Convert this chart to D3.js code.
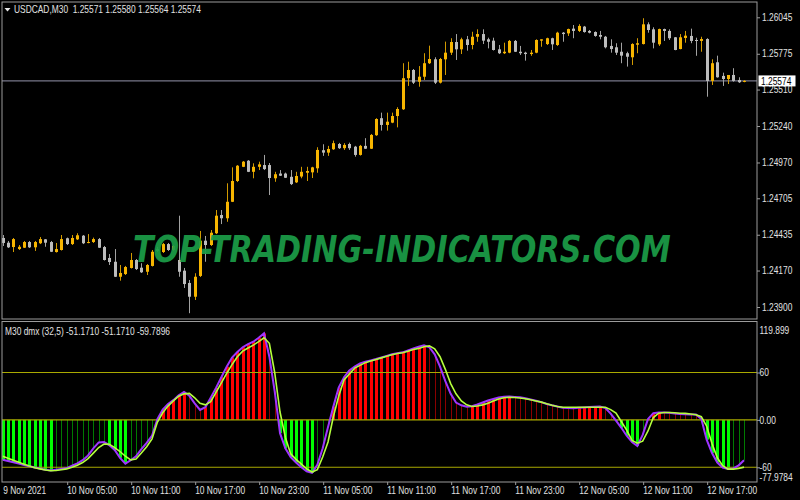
<!DOCTYPE html>
<html><head><meta charset="utf-8">
<script src="https://cdn.jsdelivr.net/npm/d3@7"></script>
<style>
html,body{margin:0;padding:0;background:#000;}
svg{display:block;}
</style></head><body>
<svg id="c" width="800" height="500"></svg>
<script>
// ---------------- DATA ----------------
const chartTitle = "USDCAD,M30";
const lastOHLC = ["1.25571","1.25580","1.25564","1.25574"];
const currentPrice = 1.25574;
const currentPriceLabel = "1.25574";

const open = [
1.24411,1.24376,1.24344,1.24329,1.24339,1.24381,1.24342,1.24372,1.24401,1.24381,
1.24307,1.24322,1.24409,1.24366,1.24401,1.24428,1.24377,1.24381,1.24403,1.24344,
1.24263,1.24235,1.24124,1.24144,1.24189,1.24248,1.24191,1.24161,1.24204,1.24329,
1.24307,1.24366,1.24322,1.24248,1.24169,1.24078,1.23976,1.24130,1.24391,1.24359,
1.24446,1.24581,1.24557,1.24679,1.24833,1.24938,1.24983,1.24901,1.24938,1.24951,
1.24951,1.24853,1.24888,1.24888,1.24864,1.24823,1.24866,1.24894,1.24897,1.24927,
1.25061,1.25043,1.25068,1.25107,1.25076,1.25107,1.25087,1.25026,1.25093,1.25072,
1.25172,1.25298,1.25248,1.25265,1.25314,1.25364,1.25594,1.25655,1.25568,1.25605,
1.25705,1.25734,1.25561,1.25734,1.25783,1.25862,1.25808,1.25882,1.25840,1.25901,
1.25921,1.25882,1.25872,1.25808,1.25779,1.25783,1.25870,1.25790,1.25783,1.25773,
1.25783,1.25872,1.25847,1.25890,1.25840,1.25931,1.25926,1.25961,1.25944,1.25976,
1.25944,1.25936,1.25914,1.25901,1.25833,1.25823,1.25790,1.25779,1.25749,1.25842,
1.25847,1.25993,1.25956,1.25845,1.25958,1.25944,1.25897,1.25810,1.25892,1.25907,
1.25877,1.25870,1.25884,1.25574,1.25712,1.25611,1.25588,1.25618,1.25581,1.25571];

const high = [
1.24433,1.24389,1.24411,1.24359,1.24389,1.24389,1.24389,1.24418,1.24403,1.24389,
1.24374,1.24433,1.24414,1.24433,1.24446,1.24433,1.24440,1.24414,1.24411,1.24352,
1.24292,1.24329,1.24211,1.24204,1.24300,1.24255,1.24224,1.24218,1.24322,1.24344,
1.24374,1.24374,1.24359,1.24576,1.24189,1.24100,1.24150,1.24463,1.24426,1.24470,
1.24618,1.24618,1.24816,1.24934,1.24951,1.24981,1.24988,1.24964,1.24976,1.25026,
1.24966,1.24901,1.24914,1.24895,1.24914,1.24901,1.24938,1.24938,1.24938,1.25083,
1.25105,1.25093,1.25132,1.25115,1.25113,1.25117,1.25093,1.25100,1.25150,1.25181,
1.25298,1.25339,1.25339,1.25339,1.25379,1.25705,1.25716,1.25662,1.25684,1.25779,
1.25835,1.25749,1.25744,1.25865,1.25890,1.25921,1.25894,1.25907,1.25938,1.25956,
1.25956,1.25894,1.25894,1.25840,1.25857,1.25877,1.25877,1.25833,1.25790,1.25803,
1.25882,1.25882,1.25894,1.25894,1.25938,1.25936,1.25961,1.25988,1.25994,1.25981,
1.25951,1.25941,1.25944,1.25907,1.25882,1.25853,1.25857,1.25790,1.25853,1.25890,
1.26038,1.26008,1.25971,1.25961,1.25961,1.25956,1.25899,1.25921,1.25944,1.25961,
1.25894,1.25901,1.25890,1.25734,1.25761,1.25635,1.25611,1.25668,1.25601,1.25580];

const low = [
1.24352,1.24337,1.24307,1.24322,1.24337,1.24337,1.24315,1.24366,1.24346,1.24307,
1.24303,1.24318,1.24359,1.24359,1.24396,1.24366,1.24372,1.24374,1.24337,1.24244,
1.24211,1.24122,1.24095,1.24137,1.24185,1.24174,1.24152,1.24137,1.24200,1.24307,
1.24300,1.24315,1.24315,1.24124,1.24041,1.23854,1.23952,1.24122,1.24235,1.24352,
1.24440,1.24514,1.24531,1.24677,1.24825,1.24936,1.24899,1.24853,1.24914,1.24914,
1.24729,1.24827,1.24870,1.24855,1.24803,1.24818,1.24853,1.24833,1.24855,1.24894,
1.25019,1.25019,1.25063,1.25070,1.25063,1.25063,1.25013,1.25021,1.25070,1.25070,
1.25167,1.25206,1.25206,1.25261,1.25230,1.25359,1.25537,1.25551,1.25531,1.25581,
1.25699,1.25551,1.25555,1.25618,1.25766,1.25729,1.25773,1.25798,1.25808,1.25864,
1.25847,1.25815,1.25799,1.25773,1.25773,1.25779,1.25788,1.25766,1.25724,1.25760,
1.25779,1.25827,1.25840,1.25803,1.25833,1.25864,1.25907,1.25890,1.25936,1.25931,
1.25926,1.25901,1.25882,1.25815,1.25783,1.25766,1.25705,1.25680,1.25692,1.25779,
1.25844,1.25931,1.25815,1.25833,1.25870,1.25877,1.25801,1.25808,1.25857,1.25853,
1.25760,1.25790,1.25457,1.25544,1.25598,1.25537,1.25551,1.25568,1.25559,1.25564];

const close = [
1.24374,1.24342,1.24403,1.24346,1.24381,1.24342,1.24381,1.24403,1.24376,1.24309,
1.24329,1.24403,1.24366,1.24411,1.24431,1.24372,1.24381,1.24403,1.24339,1.24248,
1.24233,1.24124,1.24152,1.24196,1.24248,1.24181,1.24157,1.24211,1.24309,1.24315,
1.24366,1.24322,1.24352,1.24161,1.24070,1.23976,1.24124,1.24391,1.24359,1.24450,
1.24576,1.24557,1.24679,1.24833,1.24946,1.24976,1.24901,1.24938,1.24956,1.24921,
1.24855,1.24883,1.24872,1.24857,1.24810,1.24870,1.24901,1.24907,1.24934,1.25063,
1.25043,1.25070,1.25113,1.25076,1.25100,1.25076,1.25026,1.25093,1.25072,1.25174,
1.25292,1.25248,1.25272,1.25314,1.25366,1.25594,1.25655,1.25561,1.25605,1.25705,
1.25736,1.25561,1.25736,1.25783,1.25862,1.25808,1.25882,1.25840,1.25901,1.25921,
1.25872,1.25864,1.25803,1.25779,1.25790,1.25870,1.25790,1.25779,1.25773,1.25783,
1.25877,1.25882,1.25890,1.25845,1.25931,1.25921,1.25958,1.25944,1.25981,1.25936,
1.25931,1.25907,1.25901,1.25823,1.25810,1.25783,1.25761,1.25753,1.25847,1.25853,
1.25993,1.25951,1.25857,1.25958,1.25944,1.25890,1.25803,1.25897,1.25909,1.25870,
1.25872,1.25884,1.25574,1.25705,1.25601,1.25588,1.25618,1.25574,1.25564,1.25574];

const dmxMain = [
-50.5,-52,-53.7,-55.3,-57,-58.7,-60.3,-61.5,-63,-64,
-63,-62,-61,-58,-55,-51,-45,-36,-28.5,-28,
-32,-38,-48,-55.5,-51,-46,-37,-29,-20,1,
13,20,25,31,35.5,30.5,21,12.6,16,28,
40.5,54,67.4,79,86,92,96,99,104,109.5,
80,36,-16.8,-36,-47,-54,-60,-65,-67,-57,
-36,-9,16.8,41,54,62.5,67.5,71.6,73.5,75.3,
77,79,81,83,84.5,85.5,88,90.5,92.5,94.5,
92,83,67.4,49,33,22,18.5,16.8,17.3,19.5,
22,24.5,26.5,28.3,29.2,29.5,29,28.6,27.3,25.8,
24.3,22.5,20.2,18.5,17,15.5,15,14.7,15.3,15.8,
16.2,16.5,16.8,15,8,-1,-10,-20,-28,-33,
-19,1,8.5,9.5,9.3,9,8,7.5,7,6.8,
6.7,1,-25,-42,-54,-60.5,-62,-61.5,-57.5,-51.171];

const dmxSignal = [
-46,-48.5,-51,-53.5,-56,-58.5,-60.5,-62,-63.5,-64.3,
-64,-63,-62,-60,-57.5,-54,-49,-42,-35,-30.5,
-31,-35,-40,-46,-50.5,-49.5,-42,-34,-24,-3,
9,17.5,24,30,33,33.5,28,21,19,23,
35,47,59,70,80,87,91,94.7,99,104,
97,60,10,-22,-43,-50,-56,-62,-66,-63,
-47,-28,4,30,50.5,58,65.5,69,72.5,74.5,
76.5,78.5,80.5,82.5,84,85,87,89,90.5,92.5,
93.7,90,80,64,46,33,24,19,17,17.5,
19,21,24,26.5,28,28.6,28.4,27.8,26.8,25.5,
24,22.5,20.5,18.5,17,16,16,16,16,16,
16,16,16,16,13,8.5,-2,-13,-26,-29.5,
-27,-14,3,8.5,9.3,9.3,9,8.5,8.2,7.5,
6.5,4,-8,-30,-48,-58,-62.3,-62.3,-61.5,-59.7896];

const priceTicks = [1.26045,1.25775,1.25510,1.25240,1.24970,1.24705,1.24435,1.24170,1.23900];
const dmxTickValues = [119.899,60,0,-60,-77.9784];
const dmxTickLabels = ["119.899","60","0.00","-60","-77.9784"];
const dmxLevels = [60,0,-60];
const timeTickBars = [0,12,24,36,48,60,72,84,96,108,120,132];
const timeTickLabels = ["9 Nov 2021","10 Nov 05:00","10 Nov 11:00","10 Nov 17:00","10 Nov 23:00",
  "11 Nov 05:00","11 Nov 11:00","11 Nov 17:00","11 Nov 23:00","12 Nov 05:00","12 Nov 11:00","12 Nov 17:00"];
const indicatorLabel = "M30 dmx (32,5) -51.1710 -51.1710 -59.7896";
const watermark = "TOP-TRADING-INDICATORS.COM";

// ---------------- LAYOUT / STYLE ----------------
const W = 800, H = 500;
const L = 2, R = 757, mainTop = 2, mainBot = 319, subTop = 321.5, subBot = 482;
const FONT = '"Liberation Sans","Arial",sans-serif';
const NARROW = "scale(0.84,1)";
const TXT = "#e2e2e2", FRAME = "#9c9c9c";
const BULL = "#f7b500", BEAR = "#bcbcbc", BULLW = "#d29a00", BEARW = "#a2a2a2";

const svg = d3.select("#c");
svg.append("rect").attr("width", W).attr("height", H).attr("fill", "#000");

const defs = svg.append("defs");
defs.append("clipPath").attr("id", "cm").append("rect")
  .attr("x", L).attr("y", mainTop).attr("width", R - L).attr("height", mainBot - mainTop);
defs.append("clipPath").attr("id", "cs").append("rect")
  .attr("x", L).attr("y", subTop).attr("width", R - L).attr("height", subBot - subTop);

const idx = d3.range(open.length);
const x = d3.scaleLinear().domain([0, open.length - 1]).range([2.7, 744]);
const yP = d3.scaleLinear().domain([1.23900, 1.26045]).range([307, 17.3]);
const yD = d3.scaleLinear().domain([-60, 60]).range([467.3, 372.5]);

// ---------------- MAIN PANEL ----------------
const gM = svg.append("g").attr("clip-path", "url(#cm)");
gM.append("line").attr("x1", L).attr("x2", R)
  .attr("y1", yP(currentPrice)).attr("y2", yP(currentPrice))
  .attr("stroke", "#77778a").attr("stroke-width", 1.4);

const cx = i => Math.round(x(i)) + 0.5;
gM.selectAll("line.wick").data(idx).join("line").attr("class", "wick")
  .attr("x1", cx).attr("x2", cx)
  .attr("y1", i => yP(high[i])).attr("y2", i => yP(low[i]))
  .attr("stroke", i => close[i] >= open[i] ? BULLW : BEARW).attr("stroke-width", 1);
gM.selectAll("rect.body").data(idx).join("rect").attr("class", "body")
  .attr("x", i => cx(i) - 1.5).attr("width", 3)
  .attr("y", i => yP(Math.max(open[i], close[i])))
  .attr("height", i => Math.max(1, yP(Math.min(open[i], close[i])) - yP(Math.max(open[i], close[i]))))
  .attr("fill", i => close[i] >= open[i] ? BULL : BEAR);

// watermark (horizontally scaled so its box spans the same width as the reference)
const wm = svg.append("text").text(watermark)
  .attr("font-family", '"DejaVu Sans", sans-serif').attr("font-weight", "bold").attr("font-style", "italic")
  .attr("font-size", 37).attr("fill", "#1b9c47").attr("opacity", 0.93);
const wmLen = wm.node().getComputedTextLength() || 700;
wm.attr("transform", `translate(133,262) scale(${538 / wmLen},1)`);

// frame
svg.append("rect").attr("x", L).attr("y", mainTop).attr("width", R - L).attr("height", mainBot - mainTop)
  .attr("fill", "none").attr("stroke", FRAME).attr("stroke-width", 1);

// title
svg.append("path").attr("d", "M4.5,8 L10.5,8 L7.5,11.5 Z").attr("fill", "#e8e8e8");
svg.append("text").attr("transform", "translate(14,12.8) " + NARROW)
  .attr("font-family", FONT).attr("font-size", 10)
  .attr("fill", TXT).attr("xml:space", "preserve")
  .text(chartTitle + "  " + lastOHLC.join(" "));

// price axis
const axP = d3.axisRight(yP).tickValues(priceTicks).tickFormat(d3.format(".5f")).tickSize(3).tickPadding(3);
svg.append("g").attr("transform", `translate(${R},0)`).call(axP)
  .call(g => {
    g.attr("font-family", FONT).attr("font-size", 10);
    g.select(".domain").remove();
    g.selectAll(".tick line").attr("stroke", FRAME);
    g.selectAll(".tick text").attr("fill", TXT).attr("transform", NARROW);
  });

// current price box
const cpY = yP(currentPrice);
svg.append("rect").attr("x", 758.5).attr("y", cpY - 5.5).attr("width", 37).attr("height", 11).attr("fill", "#fff");
svg.append("text").attr("transform", `translate(761,${cpY + 3.6}) ${NARROW}`)
  .attr("font-family", FONT).attr("font-size", 10)
  .attr("fill", "#000").text(currentPriceLabel);

// ---------------- INDICATOR PANEL ----------------
const gS = svg.append("g").attr("clip-path", "url(#cs)");
const isUp = i => i > 0 && dmxMain[i] > dmxMain[i - 1];
const barColor = i => dmxMain[i] >= 0 ? (isUp(i) ? "#ff0000" : "#8a0000") : (isUp(i) ? "#007a00" : "#00ff00");
const barW = i => (dmxMain[i] >= 0 ? isUp(i) : !isUp(i)) ? 3 : 1;
gS.selectAll("rect.h").data(idx).join("rect").attr("class", "h")
  .attr("x", i => cx(i) - barW(i) / 2).attr("width", barW)
  .attr("y", i => Math.min(yD(0), yD(dmxMain[i])))
  .attr("height", i => Math.abs(yD(dmxMain[i]) - yD(0)))
  .attr("fill", barColor);

gS.selectAll("line.lvl").data(dmxLevels).join("line").attr("class", "lvl")
  .attr("x1", L).attr("x2", R).attr("y1", d => yD(d)).attr("y2", d => yD(d))
  .attr("stroke", "#a9a900").attr("stroke-width", 1.1);

const lineGen = arr => d3.line().x(i => x(i)).y(i => yD(arr[i]))(idx);
gS.append("path").attr("d", lineGen(dmxMain)).attr("fill", "none")
  .attr("stroke", "#9d35ff").attr("stroke-width", 2);
gS.append("path").attr("d", lineGen(dmxSignal)).attr("fill", "none")
  .attr("stroke", "#b4ff3c").attr("stroke-width", 1.6);

svg.append("rect").attr("x", L).attr("y", subTop).attr("width", R - L).attr("height", subBot - subTop)
  .attr("fill", "none").attr("stroke", FRAME).attr("stroke-width", 1);

svg.append("text").attr("transform", "translate(5,335) " + NARROW)
  .attr("font-family", FONT).attr("font-size", 10)
  .attr("fill", TXT).text(indicatorLabel);

const axD = d3.axisRight(yD).tickValues(dmxTickValues).tickFormat((d, i) => dmxTickLabels[i]).tickSize(3).tickPadding(0);
svg.append("g").attr("transform", `translate(${R},0)`).call(axD)
  .call(g => {
    g.attr("font-family", FONT).attr("font-size", 10);
    g.select(".domain").remove();
    g.selectAll(".tick line").attr("stroke", FRAME);
    g.selectAll(".tick text").attr("fill", TXT).attr("transform", NARROW);
    g.selectAll(".tick").filter(d => d === dmxTickValues[0]).select("text").attr("y", 5.5);
    g.selectAll(".tick").filter(d => d === dmxTickValues[dmxTickValues.length - 1]).select("text").attr("y", -4.5);
    g.selectAll(".tick").filter(d => d === dmxTickValues[0] || d === dmxTickValues[dmxTickValues.length - 1]).select("line").remove();
  });

// ---------------- TIME AXIS ----------------
const axT = d3.axisBottom(x).tickValues(timeTickBars).tickFormat((d, i) => timeTickLabels[i]).tickSize(3).tickPadding(2);
svg.append("g").attr("transform", `translate(0,${subBot})`).call(axT)
  .call(g => {
    g.attr("font-family", FONT).attr("font-size", 10);
    g.select(".domain").remove();
    g.selectAll(".tick line").attr("stroke", FRAME).attr("transform", "translate(0.5,0)");
    g.selectAll(".tick text").attr("fill", TXT).attr("text-anchor", "start").attr("transform", NARROW);
    g.selectAll(".tick").filter(d => d === timeTickBars[0]).select("line").remove();
  });
</script>
</body></html>
